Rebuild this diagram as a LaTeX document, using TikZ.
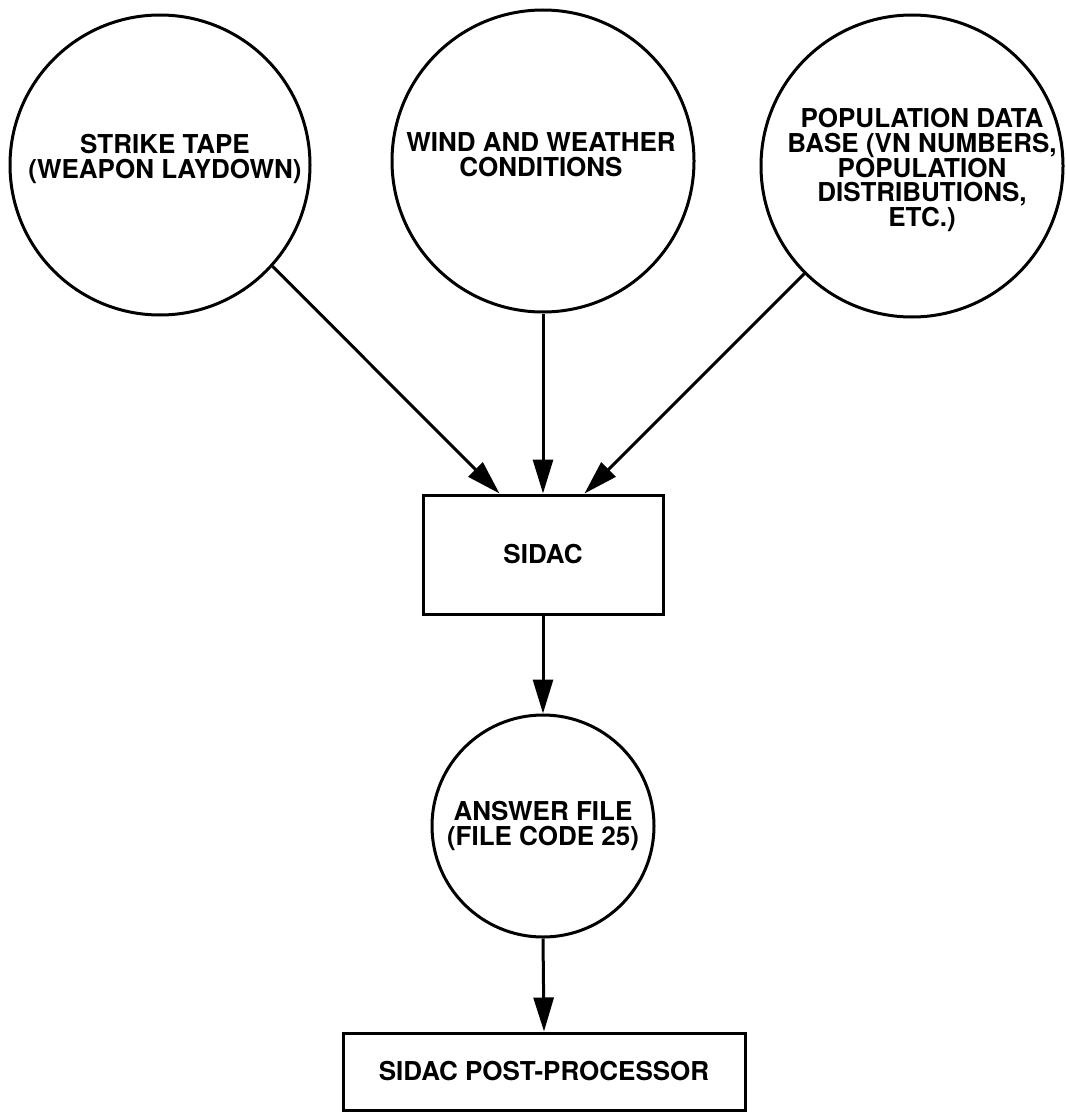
\documentclass[tikz,border=0pt]{standalone}
\usepackage{fontspec}
\setmainfont{TeX Gyre Heros}
\usetikzlibrary{arrows.meta}
\begin{document}
\begin{tikzpicture}[x=1pt,y=-1pt,
  lbl/.style={font=\bfseries\fontsize{26}{24.75}\selectfont, align=center, inner sep=0pt},
  src/.style={circle, draw, line width=3pt, inner sep=0pt},
  box/.style={rectangle, draw, line width=3pt, inner sep=0pt, lbl},
  arr/.style={line width=3pt, -{Triangle[length=34pt,width=20pt]}}]
\useasboundingbox (0,0) rectangle (1065,1113);
% input circles
\node[src, minimum size=300pt] (strike) at (160,165) {};
\node[src, minimum size=302pt] (wind) at (543,161) {};
\node[src, minimum size=302pt] (pop) at (912,166) {};
\node[lbl] (strikeT) at (165,159) {STRIKE TAPE\\(WEAPON LAYDOWN)};
\node[lbl] (windT) at (541,155) {WIND AND WEATHER\\CONDITIONS};
\node[lbl] (popT) at (922,170) {POPULATION DATA\\BASE (VN NUMBERS,\\POPULATION\\DISTRIBUTIONS,\\ETC.)};
% process and outputs
\node[box, minimum width=240pt, minimum height=119pt] (sidac) at (543,554.5) {SIDAC};
\node[src, minimum size=222pt, lbl] (answer) at (543,826) {ANSWER FILE\\(FILE CODE 25)};
\node[box, minimum width=402pt, minimum height=77pt] (post) at (544,1071.5) {SIDAC POST-PROCESSOR};
% connectors
\draw[arr] (strike.-42) -- ([xshift=78pt]sidac.north west);
\draw[arr] (wind.south) -- (sidac.north);
\draw[arr] (pop.-135) -- ([xshift=-80pt]sidac.north east);
\draw[arr] (sidac.south) -- (answer.north);
\draw[arr] (answer.south) -- (post.north);
\end{tikzpicture}
\end{document}
